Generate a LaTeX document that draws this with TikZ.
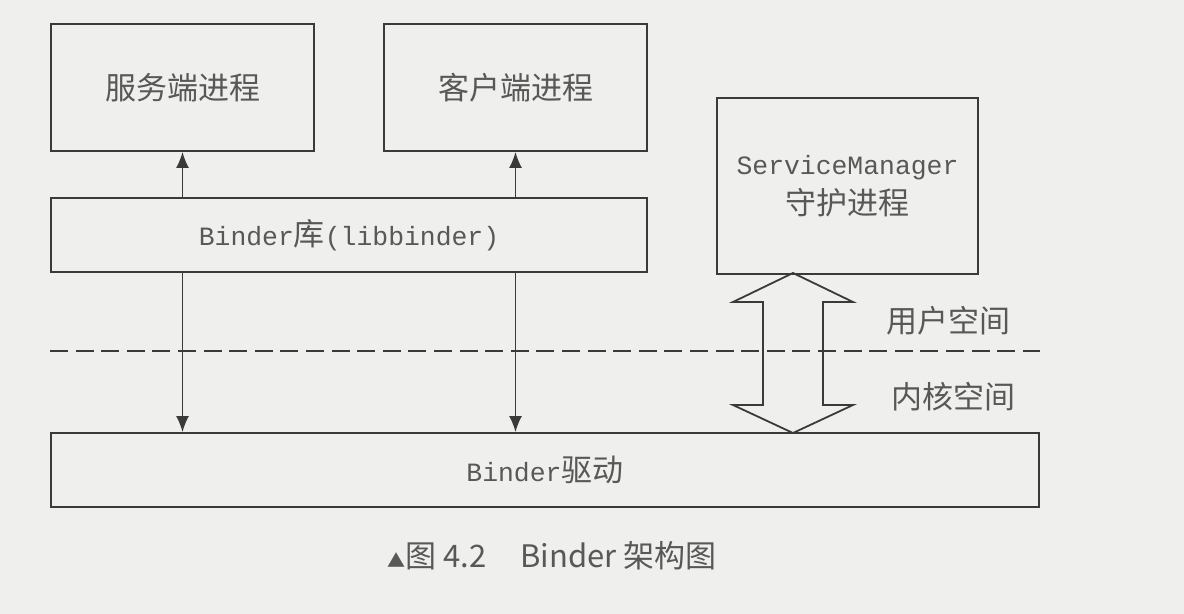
\documentclass[tikz,border=0pt]{standalone}
\usepackage{fontspec}
\setmainfont{Noto Sans CJK SC}
\setmonofont{Liberation Mono}
\usetikzlibrary{arrows.meta}

\definecolor{paper}{RGB}{239,239,237}
\definecolor{ink}{RGB}{58,58,58}
\definecolor{inktext}{RGB}{88,88,88}

\tikzset{
    procbox/.style={draw=ink, line width=0.95pt, inner sep=0pt, text=inktext,
        font=\fontsize{15.5pt}{20pt}\selectfont, align=center},
    linkarrow/.style={draw=ink, line width=0.8pt, -{Latex[length=8pt,width=6.5pt]}},
    spacelabel/.style={text=inktext, font=\fontsize{15.5pt}{20pt}\selectfont},
}
\newcommand{\lat}[1]{{\fontsize{13.2pt}{20pt}\selectfont\ttfamily #1}}

\begin{document}
\begin{tikzpicture}[x=0.5pt,y=-0.5pt]
    % Parameters
    \def\procW{131.5pt} % width of a process box
    \def\procH{63.5pt} % height of a process box
    \def\layerH{37pt} % height of a layer box
    \def\arrowX{793} % x of the big double arrow

    % Paper
    \fill[paper] (0,0) rectangle (1184,614);

    % Boxes
    \node[procbox, minimum width=\procW, minimum height=\procH] (server) at (182.5,87.5) {服务端进程};
    \node[procbox, minimum width=\procW, minimum height=\procH] (client) at (515.5,87.5) {客户端进程};
    \node[procbox, minimum width=298pt, minimum height=\layerH] (lib) at (349,235) {\lat{Binder}库\lat{(libbinder)}};
    \node[procbox, minimum width=130.5pt, minimum height=88pt] (sm) at (847.5,186) {\lat{ServiceManager}\\守护进程};
    \node[procbox, minimum width=494pt, minimum height=\layerH] (driver) at (545,470) {\lat{Binder}驱动};

    % Library up to the processes, down to the driver
    \draw[linkarrow] (lib.north -| server) -- (server.south);
    \draw[linkarrow] (lib.north -| client) -- (client.south);
    \draw[linkarrow] (lib.south -| server) -- (driver.north -| server);
    \draw[linkarrow] (lib.south -| client) -- (driver.north -| client);

    % User / kernel split
    \coordinate (splitL) at (50,351);
    \coordinate (splitR) at (1040,351);
    \draw[ink, line width=0.8pt, dash pattern=on 9pt off 3.8pt] (splitL) -- (splitR);
    \node[spacelabel] (user) at (948,321) {用户空间};
    \node[spacelabel] (kernel) at (953,397) {内核空间};

    % Big double arrow between ServiceManager and the driver
    \coordinate (bigtop) at (\arrowX,273);
    \draw[ink, line width=0.9pt, line join=miter] (bigtop) --++ (60,29) --++ (-30,0) --++ (0,103) --++ (30,0)
        --++ (-60,28) --++ (-60,-28) --++ (30,0) --++ (0,-103) --++ (-30,0) -- cycle;

    % Caption
    \node[text=inktext, font=\fontsize{15.5pt}{18pt}\selectfont] (caption) at (552,556)
        {{\fontsize{9pt}{9pt}\selectfont ▲}图 4.2\hspace{1.1em}Binder 架构图};
\end{tikzpicture}
\end{document}
